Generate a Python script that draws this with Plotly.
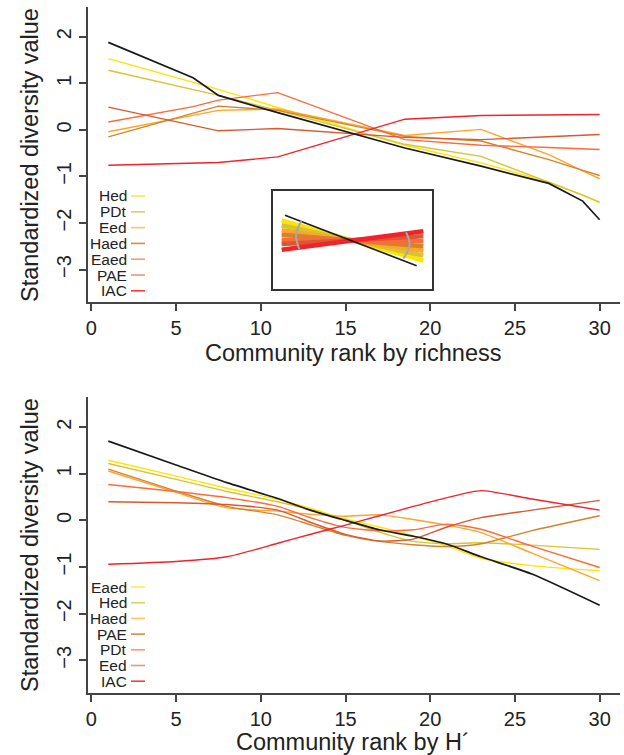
import plotly.graph_objects as go

# ---------------- data: top panel (rank by richness) ----------------
rich_rank = [1, 6, 7.5, 11, 18.5, 23, 27, 29, 30]
rich_total = [1.88, 1.12, 0.74, 0.37, -0.39, -0.78, -1.15, -1.53, -1.93]
rich_Hed = [1.53, 1.01, 0.87, 0.48, -0.33, -0.71, -1.12, -1.40, -1.56]
rich_PDt = [1.28, 0.86, 0.74, 0.42, -0.31, -0.57, -1.12, -1.40, -1.55]
rich_Eed = [-0.04, 0.31, 0.42, 0.45, -0.12, 0.01, -0.53, -0.88, -1.05]
rich_Haed = [-0.15, 0.36, 0.51, 0.42, -0.14, -0.24, -0.64, -0.87, -0.98]
rich_Eaed = [0.17, 0.50, 0.64, 0.80, -0.21, -0.33, -0.38, -0.41, -0.42]
rich_PAE = [0.49, 0.10, -0.02, 0.03, -0.16, -0.21, -0.15, -0.12, -0.10]
rich_IAC = [-0.76, -0.72, -0.70, -0.58, 0.23, 0.31, 0.32, 0.33, 0.33]
rich_names = ["Hed", "PDt", "Eed", "Haed", "Eaed", "PAE", "IAC"]
rich_series = [rich_Hed, rich_PDt, rich_Eed, rich_Haed, rich_Eaed, rich_PAE, rich_IAC]

# ---------------- data: bottom panel (rank by H') ----------------
h_rank = [1, 5, 8, 11, 13, 15, 17, 19, 21, 23, 26, 30]
h_total = [1.70, 1.19, 0.81, 0.47, 0.21, 0.00, -0.20, -0.34, -0.51, -0.78, -1.15, -1.82]
h_Eaed = [1.29, 0.95, 0.69, 0.45, 0.25, 0.03, -0.14, -0.33, -0.55, -0.81, -0.97, -1.08]
h_Hed = [1.22, 0.88, 0.62, 0.40, 0.22, 0.00, -0.25, -0.45, -0.50, -0.48, -0.53, -0.62]
h_Haed = [1.06, 0.60, 0.27, 0.20, 0.13, 0.09, 0.12, 0.02, -0.10, -0.26, -0.70, -1.29]
h_PAE = [1.10, 0.63, 0.30, 0.12, -0.10, -0.32, -0.45, -0.52, -0.56, -0.50, -0.22, 0.10]
h_PDt = [0.77, 0.62, 0.49, 0.30, 0.05, -0.15, -0.22, -0.20, -0.08, -0.19, -0.55, -1.01]
h_Eed = [0.40, 0.38, 0.34, 0.22, -0.05, -0.30, -0.44, -0.40, -0.14, 0.06, 0.22, 0.43]
h_IAC = [-0.94, -0.88, -0.78, -0.49, -0.29, -0.10, 0.10, 0.30, 0.49, 0.64, 0.46, 0.22]
h_names = ["Eaed", "Hed", "Haed", "PAE", "PDt", "Eed", "IAC"]
h_series = [h_Eaed, h_Hed, h_Haed, h_PAE, h_PDt, h_Eed, h_IAC]

# ---------------- inset schematic ----------------
inset_x = [0.056, 0.944]
inset_left = [0.698, 0.647, 0.596, 0.551, 0.500, 0.456, 0.398]
inset_right = [0.286, 0.337, 0.388, 0.433, 0.484, 0.535, 0.586]
inset_black_x = [0.077, 0.902]
inset_black_y = [0.749, 0.235]
arc_left_x = [0.180, 0.146, 0.166]
arc_left_y = [0.690, 0.548, 0.405]
arc_right_x = [0.819, 0.858, 0.836]
arc_right_y = [0.305, 0.449, 0.575]

x_ticks = [0, 5, 10, 15, 20, 25, 30]
y_ticks = [-3, -2, -1, 0, 1, 2]

palette = ["#FFE400", "#D6C432", "#FFA52A", "#D2842C", "#FF6A3A", "#D9592F", "#F2222C"]
legend_palette = ["#FFE850", "#DCD060", "#FFC468", "#D49040", "#FF9A70", "#E49A80", "#FF3A3A"]

FONT = "Liberation Sans, Arial, Helvetica, sans-serif"
W, H = 624, 755
ML, MR, MT, MB = 88, 4, 7, 62
PW = W - ML - MR
PH = H - MT - MB


def px_x(px):
    return (px - ML) / PW


def px_y(py):
    return (H - MB - py) / PH


fig = go.Figure()

# top panel traces
for name, vals, col in zip(rich_names, rich_series, palette):
    fig.add_trace(go.Scatter(x=rich_rank, y=vals, mode="lines", name=name,
                             line=dict(color=col, width=1.4), xaxis="x", yaxis="y",
                             showlegend=False))
fig.add_trace(go.Scatter(x=rich_rank, y=rich_total, mode="lines", line=dict(color="#1a1a1a", width=1.7),
                         xaxis="x", yaxis="y", showlegend=False))

# bottom panel traces
for name, vals, col in zip(h_names, h_series, palette):
    fig.add_trace(go.Scatter(x=h_rank, y=vals, mode="lines", name=name,
                             line=dict(color=col, width=1.4, shape="spline", smoothing=0.6),
                             xaxis="x2", yaxis="y2", showlegend=False))
fig.add_trace(go.Scatter(x=h_rank, y=h_total, mode="lines",
                         line=dict(color="#1a1a1a", width=1.7, shape="spline", smoothing=0.6),
                         xaxis="x2", yaxis="y2", showlegend=False))

# inset traces
for lv, rv, col in zip(inset_left, inset_right, palette):
    fig.add_trace(go.Scatter(x=inset_x, y=[lv, rv], mode="lines", line=dict(color=col, width=4.5),
                             xaxis="x3", yaxis="y3", showlegend=False))
fig.add_trace(go.Scatter(x=inset_black_x, y=inset_black_y, mode="lines",
                         line=dict(color="#1a1a1a", width=1.6), xaxis="x3", yaxis="y3", showlegend=False))
for ax_, ay_ in ((arc_left_x, arc_left_y), (arc_right_x, arc_right_y)):
    fig.add_trace(go.Scatter(x=ax_, y=ay_, mode="lines",
                             line=dict(color="#A8A8A8", width=2, shape="spline", smoothing=1.0),
                             xaxis="x3", yaxis="y3", showlegend=False))

annotations = []
shapes = []
# arrowheads on arcs
for ax_, ay_ in ((arc_left_x, arc_left_y), (arc_right_x, arc_right_y)):
    annotations.append(dict(x=ax_[-1], y=ay_[-1], ax=ax_[-1] - 0.004 * (1 if ax_[-1] > ax_[1] else -1),
                            ay=ay_[-1] + (ay_[1] - ay_[-1]) * 0.25,
                            xref="x3", yref="y3", axref="x3", ayref="y3", text="", showarrow=True,
                            arrowhead=2, arrowsize=1.0, arrowwidth=2, arrowcolor="#A8A8A8"))

# legends (R style: text right-aligned, short line after)
def add_legend(names, y0, step):
    for i, (nm, col) in enumerate(zip(names, legend_palette)):
        yp = y0 + i * step
        annotations.append(dict(x=px_x(129), y=px_y(yp), xref="paper", yref="paper", text=nm,
                                showarrow=False, xanchor="right", yanchor="middle",
                                font=dict(family=FONT, size=15.5, color="#222222")))
        shapes.append(dict(type="line", xref="paper", yref="paper", x0=px_x(131), x1=px_x(145),
                           y0=px_y(yp), y1=px_y(yp), line=dict(color=col, width=1.6)))


add_legend(rich_names, 196.0, 15.8)
add_legend(h_names, 587.0, 15.7)

# axis titles
annotations.append(dict(x=px_x(353), y=px_y(353), xref="paper", yref="paper",
                        text="Community rank by richness", showarrow=False, xanchor="center",
                        yanchor="middle", font=dict(family=FONT, size=23.5, color="#222222")))
annotations.append(dict(x=px_x(353), y=px_y(742), xref="paper", yref="paper",
                        text="Community rank by H´", showarrow=False, xanchor="center",
                        yanchor="middle", font=dict(family=FONT, size=23.5, color="#222222")))
for cy in (155, 545):
    annotations.append(dict(x=px_x(30), y=px_y(cy), xref="paper", yref="paper",
                            text="Standardized diversity value", showarrow=False, textangle=-90,
                            xanchor="center", yanchor="middle",
                            font=dict(family=FONT, size=23.5, color="#222222")))

xax = dict(range=[-0.2, 31.2], tickvals=x_ticks, ticks="outside", ticklen=7, tickwidth=1.5,
           tickcolor="#444444", showline=True, linecolor="#444444", linewidth=1.5, showgrid=False,
           zeroline=False, tickfont=dict(family=FONT, size=20, color="#222222"))
yax = dict(range=[-3.7, 2.64], tickvals=y_ticks, ticks="outside", ticklen=7, tickwidth=1.5,
           tickcolor="#444444", showline=True, linecolor="#444444", linewidth=1.5, showgrid=False,
           zeroline=False, tickangle=-90, tickfont=dict(family=FONT, size=20, color="#222222"))

top_dom = [px_y(302.1), 1.0]
bot_dom = [0.0, px_y(397.3)]

fig.update_layout(
    width=W, height=H, margin=dict(l=ML, r=MR, t=MT, b=MB, autoexpand=False),
    paper_bgcolor="white", plot_bgcolor="white", showlegend=False,
    font=dict(family=FONT, color="#222222"),
    xaxis=dict(xax, domain=[0, 1], anchor="y"),
    yaxis=dict(yax, domain=top_dom, anchor="x"),
    xaxis2=dict(xax, domain=[0, 1], anchor="y2"),
    yaxis2=dict(yax, domain=bot_dom, anchor="x2"),
    xaxis3=dict(domain=[px_x(272.7), px_x(432.3)], range=[0, 1], anchor="y3", showticklabels=False,
                ticks="", showgrid=False, zeroline=False, showline=True, mirror=True,
                linecolor="#333333", linewidth=1.5),
    yaxis3=dict(domain=[px_y(288.7), px_y(190.7)], range=[0, 1], anchor="x3", showticklabels=False,
                ticks="", showgrid=False, zeroline=False, showline=True, mirror=True,
                linecolor="#333333", linewidth=1.5),
    annotations=annotations, shapes=shapes,
)

fig.write_html("out.html", config={"displayModeBar": False},
               post_script="document.body.style.margin='0px';")
